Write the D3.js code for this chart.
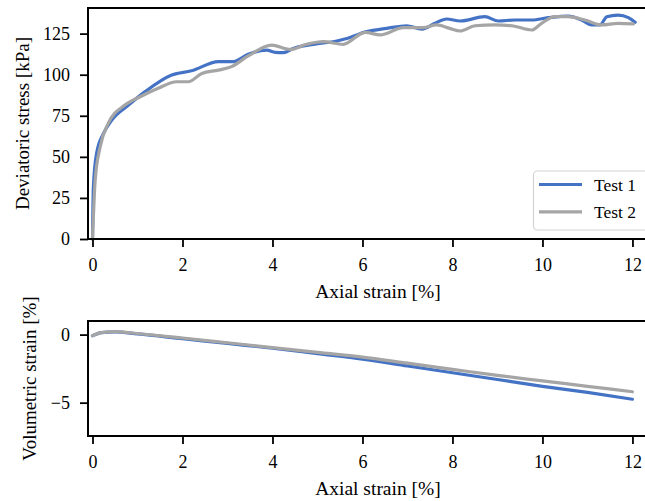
<!DOCTYPE html>
<html>
<head>
<meta charset="utf-8">
<script src="https://cdn.jsdelivr.net/npm/d3@7"></script>
<style>
  body { margin: 0; background: #fff; }
  svg text { font-family: "Liberation Serif", "Times New Roman", serif; fill: #000; }
</style>
</head>
<body>
<div id="chart"></div>
<script>
// Test 1 - deviatoric stress vs axial strain
const strain1 = [0, 0.02, 0.09, 0.24, 0.43, 0.8, 1.17, 1.76, 2.2, 2.8, 3.13, 3.46, 3.87, 4.06, 4.24, 4.46, 4.91, 5.43, 5.65, 6.09, 6.54, 6.98, 7.32, 7.61, 7.87, 8.17, 8.72, 9.02, 9.39, 9.76, 10.13, 10.57, 10.87, 11.09, 11.28, 11.43, 11.68, 11.91, 12.06]
const stress1 = [0, 31.8, 52, 64, 72.4, 81.5, 89.7, 99.8, 102.4, 108, 108, 112.4, 115, 113.6, 113.4, 116, 118.5, 120.5, 122, 126.2, 128.2, 129.8, 127.8, 131.3, 133.9, 132.7, 135.3, 132.7, 133.3, 133.3, 134.7, 135.7, 133.3, 130.3, 130.3, 135.3, 136.3, 134.7, 131.9]

// Test 2 - deviatoric stress vs axial strain
const strain2 = [0, 0.06, 0.17, 0.35, 0.72, 1.06, 1.46, 1.87, 2.13, 2.43, 2.8, 3.09, 3.46, 3.98, 4.39, 4.76, 5.13, 5.57, 6.06, 6.39, 6.91, 7.35, 7.65, 7.94, 8.17, 8.5, 8.94, 9.32, 9.76, 9.98, 10.28, 10.57, 10.94, 11.32, 11.68, 12.02]
const stress2 = [0, 36, 56, 70.4, 81.5, 86.6, 91.7, 95.7, 95.7, 100.8, 102.8, 104.9, 111.4, 118, 115.4, 118.5, 120.1, 118.5, 125.8, 124.2, 128.6, 128.6, 130.3, 128.2, 126.6, 129.8, 130.3, 129.8, 127.2, 131.3, 135.3, 135.3, 133.3, 130.3, 131.3, 130.9]

// Volumetric strain vs axial strain
const volStrain = [0, 0.2, 0.5, 1, 2, 3, 4, 5, 6, 7, 8, 9, 10, 11, 12]
const vol1 = [-0.08, 0.15, 0.2, 0.05, -0.3, -0.65, -1.0, -1.4, -1.8, -2.3, -2.8, -3.3, -3.8, -4.25, -4.75]
const vol2 = [-0.08, 0.15, 0.22, 0.08, -0.25, -0.6, -0.95, -1.3, -1.65, -2.1, -2.55, -3.0, -3.4, -3.8, -4.2]

const seriesNames = ['Test 1', 'Test 2']
const seriesColors = ['#4472C4', '#A5A5A5']
const xTicks = [0, 2, 4, 6, 8, 10, 12]
const stressTicks = [0, 25, 50, 75, 100, 125]
const volTicks = [0, -5]

const width = 645, height = 501

const svg = d3.select('#chart').append('svg')
    .attr('width', width)
    .attr('height', height)

// Shared x scale (the right edge of the axes runs past the picture)
const x = d3.scaleLinear().domain([-0.1, 12.79]).range([88, 668])

const yTop = d3.scaleLinear().domain([0, 140.6]).range([239, 8])
const yBot = d3.scaleLinear().domain([-7.45, 1]).range([436, 321])

const zip = (a, b) => a.map((v, i) => [v, b[i]])

function drawPanel(y, ticks, lines, yLabel, labelX) {
    const [y0, y1] = y.range()

    // Curves
    const line = d3.line().x(d => x(d[0])).y(d => y(d[1])).curve(d3.curveMonotoneX)
    lines.forEach((pts, i) => {
        svg.append('path')
            .attr('d', line(pts))
            .attr('fill', 'none')
            .attr('stroke', seriesColors[i])
            .attr('stroke-width', 3.2)
            .attr('stroke-linejoin', 'round')
            .attr('stroke-linecap', 'round')
    })

    // X axis
    const xAxis = d3.axisBottom(x).tickValues(xTicks).tickSize(8).tickPadding(11).tickFormat(d3.format('d'))
    const gx = svg.append('g').attr('transform', `translate(0,${y0})`).call(xAxis)
    gx.select('.domain').remove()

    // Y axis
    const yAxis = d3.axisLeft(y).tickValues(ticks).tickSize(8).tickPadding(10)
        .tickFormat(d => d < 0 ? '\u2212' + Math.abs(d) : d)
    const gy = svg.append('g').attr('transform', `translate(${x.range()[0]},0)`).call(yAxis)
    gy.select('.domain').remove()

    svg.selectAll('.tick line').attr('stroke', '#000').attr('stroke-width', 1.8)
    svg.selectAll('.tick text').style('font-size', '18px')

    // Frame
    svg.append('path')
        .attr('d', `M${x.range()[1]},${y1}H${x.range()[0]}V${y0}H${x.range()[1]}`)
        .attr('fill', 'none')
        .attr('stroke', '#000')
        .attr('stroke-width', 2)

    // Axis labels
    svg.append('text')
        .attr('x', (x.range()[0] + x.range()[1]) / 2)
        .attr('y', y0 + 59)
        .attr('text-anchor', 'middle')
        .style('font-size', '19.5px')
        .text('Axial strain [%]')

    svg.append('text')
        .attr('transform', `translate(${labelX},${(y0 + y1) / 2}) rotate(-90)`)
        .attr('text-anchor', 'middle')
        .attr('dy', '0.35em')
        .style('font-size', '19px')
        .text(yLabel)
}

drawPanel(yTop, stressTicks, [zip(strain1, stress1), zip(strain2, stress2)], 'Deviatoric stress [kPa]', 22)
drawPanel(yBot, volTicks, [zip(volStrain, vol1), zip(volStrain, vol2)], 'Volumetric strain [%]', 29)

// Legend
const legend = svg.append('g')
legend.append('rect')
    .attr('x', 533.5).attr('y', 171)
    .attr('width', 130).attr('height', 59)
    .attr('rx', 4)
    .attr('fill', 'rgba(255,255,255,0.8)')
    .attr('stroke', '#d4d4d4')
    .attr('stroke-width', 1.2)

seriesNames.forEach((name, i) => {
    const ly = 184.5 + i * 27.3
    legend.append('line')
        .attr('x1', 539).attr('x2', 582)
        .attr('y1', ly).attr('y2', ly)
        .attr('stroke', seriesColors[i])
        .attr('stroke-width', 3.2)
    legend.append('text')
        .attr('x', 594).attr('y', ly + 6.5)
        .style('font-size', '17.5px')
        .text(name)
})
</script>
</body>
</html>
